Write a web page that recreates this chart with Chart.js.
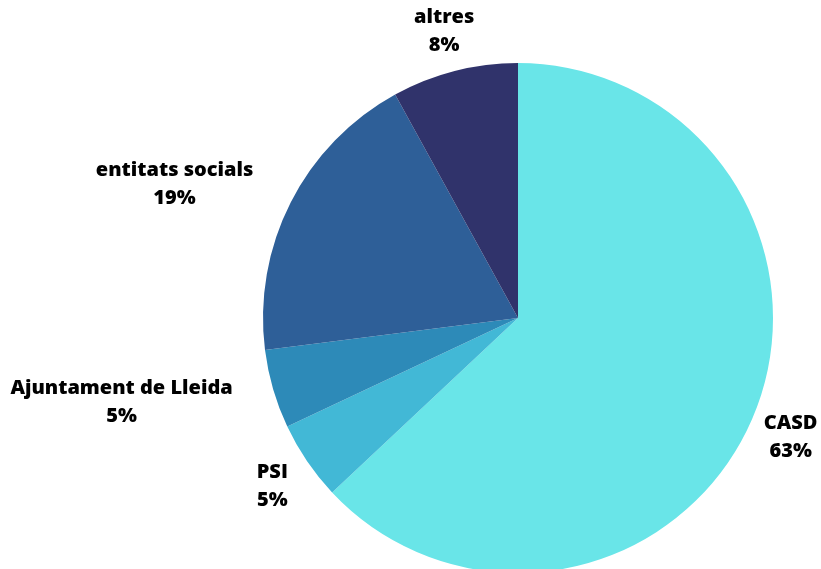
<!DOCTYPE html>
<html>
<head>
<meta charset="utf-8">
<script src="https://cdn.jsdelivr.net/npm/chart.js@4/dist/chart.umd.min.js"></script>
<style>
html,body{margin:0;padding:0;background:#fff;overflow:hidden;}
#wrap{width:821px;height:569px;position:relative;}
</style>
</head>
<body>
<div id="wrap"><canvas id="c" width="821" height="569"></canvas></div>
<script>
const categories = ["CASD", "PSI", "Ajuntament de Lleida", "entitats socials", "altres"];
const values = [63, 5, 5, 19, 8];
const colors = ["#69e5e8", "#42b8d6", "#2d8ab8", "#2e5f98", "#30336b"];

const labelPlugin = {
  id: 'outerLabels',
  afterDatasetsDraw(chart) {
    const ctx = chart.ctx;
    const meta = chart.getDatasetMeta(0);
    const total = values.reduce((a, b) => a + b, 0);
    ctx.save();
    ctx.font = '800 20px "Open Sans"';
    ctx.fillStyle = '#000';
    ctx.textBaseline = 'middle';
    ctx.textAlign = 'center';
    const lh = 28;
    meta.data.forEach((arc, i) => {
      const {x, y, startAngle, endAngle, outerRadius} = arc.getProps(['x','y','startAngle','endAngle','outerRadius'], true);
      const mid = (startAngle + endAngle) / 2;
      const d = outerRadius * 1.165;
      const ax = x + d * Math.cos(mid);
      const ay = y + 1 + d * Math.sin(mid);
      const lines = [categories[i], Math.round(values[i] / total * 100) + '%'];
      const w = Math.max(...lines.map(t => ctx.measureText(t).width));
      const h = lh + 18;
      const bx0 = ax - w / 2, bx1 = ax + w / 2, by0 = ay - h / 2, by1 = ay + h / 2;
      const nx = Math.max(bx0, Math.min(x, bx1));
      const ny = Math.max(by0, Math.min(y, by1));
      const overlap = Math.hypot(nx - x, ny - y) < outerRadius;
      let cxBox = ax;
      if (overlap) cxBox = ax < x ? ax - w / 2 : ax + w / 2;
      lines.forEach((t, k) => {
        ctx.fillText(t, cxBox, ay + (k - 0.5) * lh);
      });
    });
    ctx.restore();
  }
};

new Chart(document.getElementById('c'), {
  type: 'pie',
  data: {
    labels: categories,
    datasets: [{
      data: values,
      backgroundColor: colors,
      borderWidth: 0,
      radius: 255
    }]
  },
  options: {
    responsive: false,
    animation: false,
    layout: { padding: { left: 263, right: 48, top: 67, bottom: 0 } },
    plugins: { legend: { display: false }, tooltip: { enabled: false } }
  },
  plugins: [labelPlugin]
});
</script>
</body>
</html>
